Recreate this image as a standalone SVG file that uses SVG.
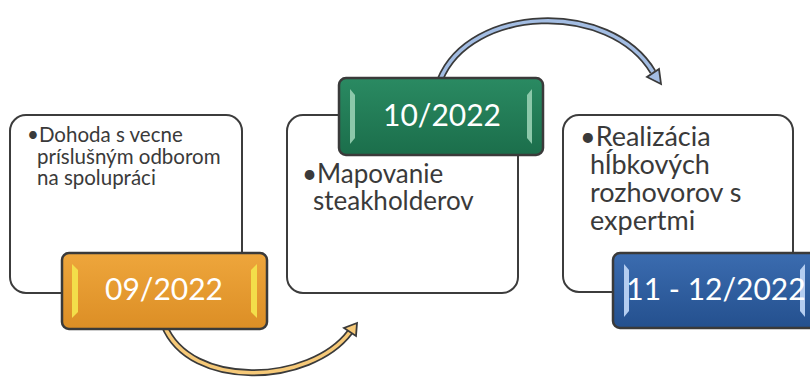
<svg xmlns="http://www.w3.org/2000/svg" width="810" height="380" viewBox="0 0 810 380">
<defs>
<linearGradient id="gOr" x1="0" y1="0" x2="0" y2="1"><stop offset="0" stop-color="#eea63c"/><stop offset="1" stop-color="#dc8e25"/></linearGradient>
<linearGradient id="gGr" x1="0" y1="0" x2="0" y2="1"><stop offset="0" stop-color="#2a8a62"/><stop offset="1" stop-color="#1b6e4b"/></linearGradient>
<linearGradient id="gBl" x1="0" y1="0" x2="0" y2="1"><stop offset="0" stop-color="#3b6cb0"/><stop offset="1" stop-color="#24508e"/></linearGradient>
</defs>
<style>
.card{fill:#fff;stroke:#3c3c3c;stroke-width:2}
.date{stroke:#3a3a3a;stroke-width:2.5}
.dt{font-family:Lato,"Liberation Sans",sans-serif;fill:#fff;font-size:30px;text-anchor:middle}
.bt{font-family:Lato,"Liberation Sans",sans-serif;fill:#3a3a3a}
.out{fill:none;stroke:#3a3a3a;stroke-width:7;stroke-linecap:butt}
.head{stroke:#3a3a3a;stroke-width:1.8;stroke-linejoin:miter}
</style>
<rect width="810" height="380" fill="#fff"/>
<g id="connectors">
<path class="out" d="M440,80 C470,5 610,0 653,72"/>
<path d="M440,80 C470,5 610,0 653,72" fill="none" stroke="#a3bde3" stroke-width="3.5"/>
<polygon class="head" fill="#a3bde3" points="661,84 647,77 659,69"/>
<path class="out" d="M164,325 C190,390 310,385 350,332"/>
<path d="M164,325 C190,390 310,385 350,332" fill="none" stroke="#f6c978" stroke-width="3.5"/>
<polygon class="head" fill="#f6c978" points="357,323 356,336 344,328"/>
</g>
<g id="node1">
<rect class="card" x="10" y="115" width="232" height="178" rx="16"/>
<text class="bt" font-size="20.5"><tspan x="27" y="142">•Dohoda s vecne</tspan><tspan x="37" y="163.5">príslušným odborom</tspan><tspan x="37" y="185">na spolupráci</tspan></text>
<rect class="date" fill="url(#gOr)" x="62" y="253" width="205" height="76" rx="7"/>
<polygon fill="#f3de4a" points="72,264 78,270 78,312 72,318"/>
<polygon fill="#f3de4a" points="257,264 251,270 251,312 257,318"/>
<text class="dt" x="164" y="300">09/2022</text>
</g>
<g id="node2">
<rect class="card" x="287" y="115" width="231" height="178" rx="16"/>
<text class="bt" font-size="26"><tspan x="302" y="183">•Mapovanie</tspan><tspan x="313" y="210">steakholderov</tspan></text>
<rect class="date" fill="url(#gGr)" x="339" y="78" width="204" height="77" rx="7"/>
<polygon fill="#8cc8aa" points="350,89 355,95 355,138 350,144"/>
<polygon fill="#8cc8aa" points="532,89 527,95 527,138 532,144"/>
<text class="dt" x="442" y="126">10/2022</text>
</g>
<g id="node3">
<rect class="card" x="563" y="115" width="230" height="177" rx="16"/>
<text class="bt" font-size="27"><tspan x="580" y="146">•Realizácia</tspan><tspan x="590" y="174">hĺbkových</tspan><tspan x="590" y="202">rozhovorov s</tspan><tspan x="590" y="230">expertmi</tspan></text>
<rect class="date" fill="url(#gBl)" x="613" y="253" width="210" height="75" rx="7"/>
<polygon fill="#b4cdf0" points="624,264 629,270 629,311 624,317"/>
<polygon fill="#b4cdf0" points="805,264 800,270 800,311 805,317"/>
<text class="dt" x="716" y="300">11 - 12/2022</text>
</g>
</svg>
